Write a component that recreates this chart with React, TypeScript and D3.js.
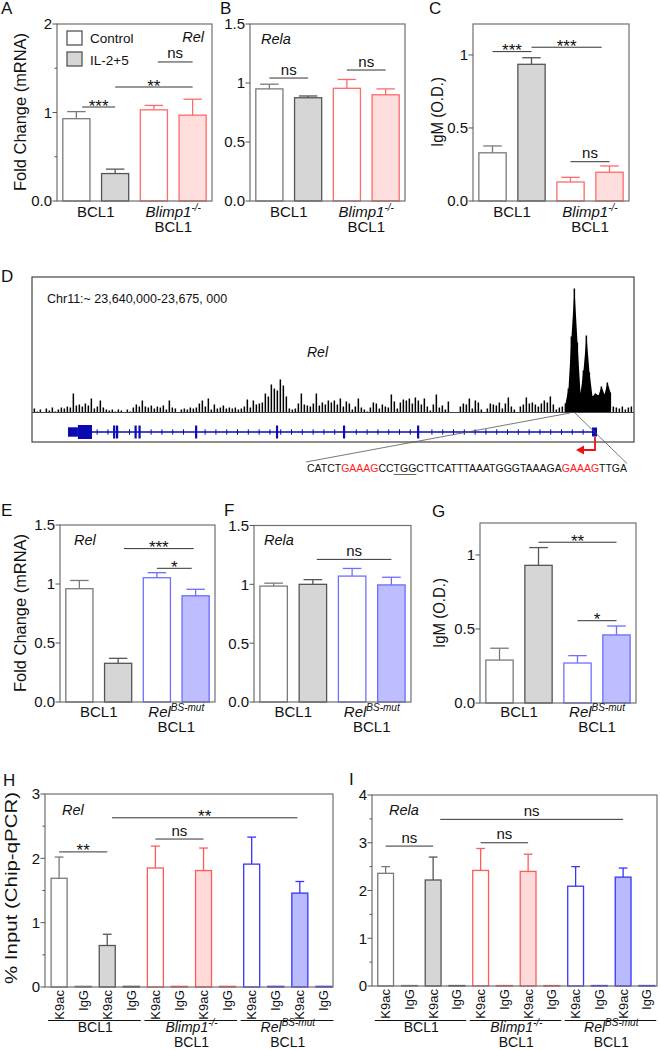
import React, { useLayoutEffect, useRef, useState } from "react";
import * as d3 from "d3";

const FONT = "'Liberation Sans', Arial, Helvetica, sans-serif";

// ---------------- data ----------------
const barCategories = ["BCL1 Control", "BCL1 IL-2+5", "Mutant Control", "Mutant IL-2+5"];
const legendLabels = ["Control", "IL-2+5"];

const relMrnaA = [0.93, 0.31, 1.03, 0.97];
const relMrnaASem = [0.08, 0.05, 0.05, 0.18];
const relaMrnaB = [0.95, 0.875, 0.955, 0.9];
const relaMrnaBSem = [0.04, 0.015, 0.075, 0.05];
const igmC = [0.33, 0.936, 0.13, 0.197];
const igmCSem = [0.047, 0.045, 0.032, 0.043];
const relMrnaE = [0.96, 0.328, 1.053, 0.9];
const relMrnaESem = [0.07, 0.042, 0.043, 0.055];
const relaMrnaF = [0.985, 1.0, 1.07, 0.995];
const relaMrnaFSem = [0.025, 0.04, 0.065, 0.065];
const igmG = [0.29, 0.93, 0.27, 0.46];
const igmGSem = [0.08, 0.12, 0.05, 0.06];

const chipCategories = ["K9ac", "IgG", "K9ac", "IgG", "K9ac", "IgG", "K9ac", "IgG", "K9ac", "IgG", "K9ac", "IgG"];
const chipRelH = [1.69, 0.01, 0.645, 0.01, 1.85, 0.01, 1.81, 0.01, 1.91, 0.01, 1.46, 0.01];
const chipRelHSem = [0.33, 0, 0.175, 0, 0.34, 0, 0.35, 0, 0.42, 0, 0.18, 0];
const chipRelaI = [2.36, 0.01, 2.22, 0.01, 2.42, 0.01, 2.4, 0.01, 2.09, 0.01, 2.28, 0.01];
const chipRelaISem = [0.14, 0, 0.48, 0, 0.46, 0, 0.36, 0, 0.41, 0, 0.19, 0];

// ChIP-seq track (3-px bins, arbitrary signal units)
const trackSignal = [
  4, 1, 3, 0, 4, 2, 5, 1, 3, 5,
  4, 6, 5, 19, 7, 8, 6, 9, 7, 14,
  4, 6, 12, 5, 3, 2, 3, 1, 3, 2,
  0, 3, 1, 5, 8, 6, 12, 6, 5, 7,
  4, 6, 5, 7, 3, 12, 5, 4, 0, 3,
  4, 3, 5, 4, 5, 9, 12, 6, 14, 3,
  8, 4, 5, 7, 4, 5, 4, 5, 3, 4,
  6, 13, 5, 12, 8, 9, 10, 19, 16, 28,
  24, 22, 33, 27, 16, 4, 3, 4, 9, 19,
  8, 7, 6, 9, 19, 7, 10, 8, 12, 10,
  12, 8, 14, 6, 11, 9, 3, 6, 14, 5,
  3, 1, 5, 10, 9, 4, 8, 6, 5, 18,
  11, 4, 10, 13, 12, 14, 9, 15, 12, 8,
  14, 6, 2, 8, 18, 5, 7, 3, 11, 0,
  0, 0, 6, 9, 8, 14, 4, 12, 10, 3,
  0, 4, 9, 8, 7, 10, 4, 9, 15, 6,
  3, 0, 6, 8, 15, 9, 10, 8, 6, 9,
  12, 10, 16, 8, 3, 5, 6, 9, 24, 76,
  124, 70, 19, 42, 77, 40, 16, 19, 17, 26,
  18, 30, 20, 6, 5, 4, 6, 3, 5, 6,
];
const peakBins = [177, 192]; // dense enriched region drawn as a filled profile
// gene model, kb from 23,640,000
const regionKb = [0, 35];
const geneSpanKb = [2.04, 32.9];
const utrThinKb = [2.04, 2.62];
const utrThickKb = [2.62, 3.44];
const exonKb = [4.73, 4.9, 5.98, 6.21, 9.51, 14.23, 18.14, 22.46];
const lastExonKb = [32.61, 32.9];
const sequenceParts = [
  { s: "CATCT", red: false },
  { s: "GAAAG", red: true },
  { s: "CCTGGCTTCATTTAAATGGGTAAAGA", red: false },
  { s: "GAAAG", red: true },
  { s: "TTGA", red: false },
];

// ---------------- styles ----------------
type BarStyle = { fill: string; stroke: string };
const WG: BarStyle = { fill: "#ffffff", stroke: "#7a7a7a" };
const GR: BarStyle = { fill: "#d6d6d6", stroke: "#555555" };
const WR: BarStyle = { fill: "#ffffff", stroke: "#ff6a6a" };
const PK: BarStyle = { fill: "#ffdede", stroke: "#ff6a6a" };
const WB: BarStyle = { fill: "#ffffff", stroke: "#7070ff" };
const LV: BarStyle = { fill: "#bdbdff", stroke: "#6c6cff" };
const WR2: BarStyle = { fill: "#ffffff", stroke: "#ff5a5a" };
const PK2: BarStyle = { fill: "#ffdada", stroke: "#ff5a5a" };
const WB2: BarStyle = { fill: "#ffffff", stroke: "#3535ff" };
const LV2: BarStyle = { fill: "#babaff", stroke: "#3535ff" };

type Sig = { a: number; b: number; v: number; label: string };
type Group = { a: number; b: number; lines: React.ReactNode[] };
type PanelProps = {
  frame: [number, number];
  band: [number, number];
  pi: number;
  po: number;
  yBottom: number;
  yTop: number;
  max: number;
  majors: [number, string][];
  minors: number[];
  values: number[];
  sems: number[];
  styles: BarStyle[];
  sigs: Sig[];
  capFrac: number;
  groups: Group[];
  groupY: number;
  lineGap?: number;
  groupFont?: number;
  underline?: number;
  catLabels?: string[];
};

const blimpLabel = (
  <>
    <tspan fontStyle="italic">Blimp1</tspan>
    <tspan fontStyle="italic" fontSize={10} dy={-6}>-/-</tspan>
  </>
);
const relBsLabel = (
  <>
    <tspan fontStyle="italic">Rel</tspan>
    <tspan fontStyle="italic" fontSize={10} dy={-6}>BS-mut</tspan>
  </>
);

function BarPanel(p: PanelProps) {
  const n = p.values.length;
  const x = d3.scaleBand<number>().domain(d3.range(n)).range(p.band).paddingInner(p.pi).paddingOuter(p.po);
  const bw = x.bandwidth();
  const cx = (i: number) => (x(0) as number) + i * x.step() + bw / 2;
  const y = d3.scaleLinear().domain([0, p.max]).range([p.yBottom, p.yTop]);
  const [fx0, fx1] = p.frame;
  const cap = bw * p.capFrac;
  const gap = p.lineGap ?? 15.5;
  const gf = p.groupFont ?? 15;
  return (
    <g>
      {p.values.map((v, i) => {
        const st = p.styles[i];
        const top = y(v);
        return (
          <rect key={"b" + i} x={x(i)} y={top} width={bw} height={Math.max(0.4, p.yBottom - top)}
            fill={st.fill} stroke={st.stroke} strokeWidth={1.3} />
        );
      })}
      {p.values.map((v, i) => {
        if (!p.sems[i]) return null;
        const st = p.styles[i];
        const yt = y(v + p.sems[i]);
        return (
          <g key={"e" + i} stroke={st.stroke} strokeWidth={1.3}>
            <line x1={cx(i)} x2={cx(i)} y1={y(v)} y2={yt} />
            <line x1={cx(i) - cap / 2} x2={cx(i) + cap / 2} y1={yt} y2={yt} />
          </g>
        );
      })}
      <rect x={fx0} y={p.yTop} width={fx1 - fx0} height={p.yBottom - p.yTop} fill="none" stroke="#707070" strokeWidth={1.2} />
      {p.majors.map(([v, lab]) => (
        <g key={"t" + v}>
          <line x1={fx0 - 4.5} x2={fx0} y1={y(v)} y2={y(v)} stroke="#555" strokeWidth={1} />
          <text x={fx0 - 5} y={y(v)} dy="0.36em" textAnchor="end" fontSize={15} fill="#111">{lab}</text>
        </g>
      ))}
      {p.minors.map((v) => (
        <line key={"m" + v} x1={fx0 - 2.5} x2={fx0} y1={y(v)} y2={y(v)} stroke="#555" strokeWidth={1} />
      ))}
      {p.sigs.map((s, i) => {
        const ly = y(s.v);
        const isNs = s.label === "ns";
        return (
          <g key={"s" + i}>
            <line x1={cx(s.a)} x2={cx(s.b)} y1={ly} y2={ly} stroke="#333" strokeWidth={1} />
            <text x={(cx(s.a) + cx(s.b)) / 2} y={isNs ? ly - 3.5 : ly + 4.5} textAnchor="middle"
              fontSize={isNs ? 15 : 17} fill="#111">{s.label}</text>
          </g>
        );
      })}
      {p.catLabels &&
        p.catLabels.map((c, i) => (
          <text key={"c" + i} transform={`translate(${cx(i) + 4.5},${p.yBottom + 3}) rotate(-90)`}
            textAnchor="end" fontSize={13} fill="#111">{c}</text>
        ))}
      {p.groups.map((g, gi) => {
        const mid = (cx(g.a) + cx(g.b)) / 2;
        return (
          <g key={"g" + gi}>
            {p.underline !== undefined && (
              <line x1={(x(g.a) as number) - 3} x2={(x(g.b) as number) + bw + 1.5} y1={p.underline} y2={p.underline}
                stroke="#111" strokeWidth={1} />
            )}
            {g.lines.map((l, li) => (
              <text key={li} x={mid} y={p.groupY + li * gap} textAnchor="middle" fontSize={gf} fill="#111">{l}</text>
            ))}
          </g>
        );
      })}
    </g>
  );
}

function TrackPanel() {
  const seqRef = useRef<SVGTextElement>(null);
  const [ul, setUl] = useState<[number, number] | null>(null);
  useLayoutEffect(() => {
    const t = seqRef.current;
    if (t) {
      try {
        const a = t.getStartPositionOfChar(12).x;
        const b = t.getEndPositionOfChar(14).x;
        setUl([a, b]);
      } catch (e) {
        /* ignore */
      }
    }
  }, []);
  const fx0 = 32, fx1 = 634, fy0 = 277, fy1 = 442, base = 412.5;
  const bx = d3.scaleLinear().domain([0, trackSignal.length]).range([33, 633]);
  const by = d3.scaleLinear().domain([0, 125]).range([base, base - 125]);
  const gx = d3.scaleLinear().domain(regionKb).range([33, 633]);
  const gy = 432;
  const ticks = d3.range(utrThickKb[1] + 0.3, lastExonKb[0] - 0.1, 0.63).filter(
    (k) => exonKb.every((e) => Math.abs(e - k) > 0.22)
  );
  const peakIdx = d3.range(peakBins[0], peakBins[1] + 1);
  const peakArea = d3
    .area<number>()
    .x((i) => bx(i) + 1.5)
    .y0(base)
    .y1((i) => by(trackSignal[i]))
    .curve(d3.curveLinear);
  const blue = "#0a0ab4";
  return (
    <g>
      <rect x={fx0} y={fy0} width={fx1 - fx0} height={fy1 - fy0} fill="none" stroke="#444" strokeWidth={1.2} />
      <text x={47} y={303} fontSize={12.5} fill="#111">Chr11:~ 23,640,000-23,675, 000</text>
      <text x={307} y={357} fontSize={14} fontStyle="italic" fill="#111">Rel</text>
      {trackSignal.map((h, i) => (
        <rect key={i} x={bx(i) + 0.6} y={by(h)} width={1.5} height={base - by(h)} fill="#000" />
      ))}
      <path d={peakArea(peakIdx) || ""} fill="#000" />
      <line x1={fx0} x2={fx1} y1={base} y2={base} stroke="#444" strokeWidth={1} />
      {/* gene model */}
      <line x1={gx(geneSpanKb[0])} x2={gx(geneSpanKb[1])} y1={gy} y2={gy} stroke={blue} strokeWidth={1.6} />
      <rect x={gx(utrThinKb[0])} y={gy - 4.7} width={gx(utrThinKb[1]) - gx(utrThinKb[0])} height={9.4} fill={blue} />
      <rect x={gx(utrThickKb[0])} y={gy - 7} width={gx(utrThickKb[1]) - gx(utrThickKb[0])} height={14} fill={blue} />
      {ticks.map((k, i) => (
        <line key={"it" + i} x1={gx(k)} x2={gx(k)} y1={gy - 2.7} y2={gy + 2.7} stroke={blue} strokeWidth={1} />
      ))}
      {exonKb.map((k, i) => (
        <rect key={"ex" + i} x={gx(k) - 1} y={gy - 6.5} width={2.2} height={13} fill={blue} />
      ))}
      <rect x={gx(lastExonKb[0])} y={gy - 4.5} width={gx(lastExonKb[1]) - gx(lastExonKb[0])} height={9} fill={blue} />
      {/* TSS arrow */}
      <path d={`M${gx(lastExonKb[1]) - 2},${gy + 5} V450 H583`} fill="none" stroke="#ee1111" strokeWidth={1.8} />
      <path d="M576,450 L584,445.5 L584,454.5 Z" fill="#ee1111" />
      {/* zoom lines */}
      <line x1={570} y1={413} x2={306} y2={462} stroke="#555" strokeWidth={0.8} />
      <line x1={575} y1={413} x2={627} y2={463.5} stroke="#555" strokeWidth={0.8} />
      <text ref={seqRef} x={307} y={471.5} fontSize={10.5} fill="#111" textLength={320} lengthAdjust="spacing">
        {sequenceParts.map((p, i) => (
          <tspan key={i} fill={p.red ? "#ff1a1a" : "#111"}>{p.s}</tspan>
        ))}
      </text>
      {ul && <line x1={ul[0]} x2={ul[1]} y1={474.5} y2={474.5} stroke="#666" strokeWidth={1} />}
    </g>
  );
}

export default function App() {
  const fourMajorsA: [number, string][] = [[0, "0.0"], [1, "1"], [2, "2"]];
  const majors15: [number, string][] = [[0, "0.0"], [0.5, "0.5"], [1, "1"], [1.5, "1.5"]];
  const majorsIgm: [number, string][] = [[0, "0.0"], [0.5, "0.5"], [1, "1"]];
  const majorsH: [number, string][] = [[0, "0"], [1, "1"], [2, "2"], [3, "3"]];
  const majorsI: [number, string][] = [[0, "0"], [1, "1"], [2, "2"], [3, "3"], [4, "4"]];
  const topGroupsKO: Group[] = [
    { a: 0, b: 1, lines: ["BCL1"] },
    { a: 2, b: 3, lines: [blimpLabel, "BCL1"] },
  ];
  const topGroupsBS: Group[] = [
    { a: 0, b: 1, lines: ["BCL1"] },
    { a: 2, b: 3, lines: [relBsLabel, "BCL1"] },
  ];
  const chipGroups: Group[] = [
    { a: 0, b: 3, lines: ["BCL1"] },
    { a: 4, b: 7, lines: [blimpLabel, "BCL1"] },
    { a: 8, b: 11, lines: [relBsLabel, "BCL1"] },
  ];
  const chipStyles = [WG, WG, GR, GR, WR2, WR2, PK2, PK2, WB2, WB2, LV2, LV2];
  const common4 = { pi: 0.3, po: 0.15, capFrac: 0.68 };
  const letter = (t: string, x: number, y: number) => (
    <text x={x} y={y} fontSize={17} fill="#111">{t}</text>
  );
  const yTitle = (t: string, x: number, y: number, len?: number) => (
    <text transform={`translate(${x},${y}) rotate(-90)`} textAnchor="middle" dy="0.36em" fontSize={16} fill="#111"
      {...(len ? { textLength: len, lengthAdjust: "spacingAndGlyphs" } : {})}>{t}</text>
  );
  return (
    <svg width={660} height={1050} style={{ position: "absolute", left: 0, top: 0, display: "block", background: "#fff" }}
      fontFamily={FONT}>
      <rect width={660} height={1050} fill="#fff" />
      {letter("A", 1, 14)}
      {letter("B", 220, 14)}
      {letter("C", 429, 14)}
      {letter("D", 1, 282)}
      {letter("E", 1, 516)}
      {letter("F", 224, 516)}
      {letter("G", 432, 517)}
      {letter("H", 3, 786)}
      {letter("I", 349, 785)}

      {yTitle("Fold Change (mRNA)", 20, 112, 158)}
      {yTitle("IgM (O.D.)", 437, 112, 70)}
      {yTitle("Fold Change (mRNA)", 20, 613, 158)}
      {yTitle("IgM (O.D.)", 439, 613, 70)}
      {yTitle("% Input (Chip-qPCR)", 11, 888, 192)}

      <BarPanel frame={[57, 212]} band={[57, 212]} {...common4} yBottom={201} yTop={24} max={2}
        majors={fourMajorsA} minors={[0.5, 1.5]} values={relMrnaA} sems={relMrnaASem} styles={[WG, GR, WR, PK]}
        sigs={[{ a: 0.15, b: 1, v: 1.062, label: "***" }, { a: 1, b: 3, v: 1.288, label: "**" }, { a: 2.1, b: 3, v: 1.571, label: "ns" }]}
        groups={topGroupsKO} groupY={216.5} />
      {/* legend */}
      <rect x={67} y={31} width={15} height={14} fill={WG.fill} stroke="#555" strokeWidth={1.3} />
      <rect x={67} y={52} width={15} height={14} fill={GR.fill} stroke="#555" strokeWidth={1.3} />
      <text x={90} y={43} fontSize={13.5} fill="#111">{legendLabels[0]}</text>
      <text x={90} y={65} fontSize={13.5} fill="#111">{legendLabels[1]}</text>
      <text x={204} y={42} fontSize={14.5} fontStyle="italic" textAnchor="end" fill="#111">Rel</text>

      <BarPanel frame={[250, 405]} band={[250, 405]} {...common4} yBottom={201} yTop={24} max={1.5}
        majors={majors15} minors={[]} values={relaMrnaB} sems={relaMrnaBSem} styles={[WG, GR, WR, PK]}
        sigs={[{ a: 0, b: 1, v: 1.042, label: "ns" }, { a: 2, b: 3, v: 1.11, label: "ns" }]}
        groups={topGroupsKO} groupY={216.5} />
      <text x={261} y={44} fontSize={14.5} fontStyle="italic" fill="#111">Rela</text>

      <BarPanel frame={[473, 629]} band={[473, 629]} {...common4} yBottom={201} yTop={24} max={1.212}
        majors={majorsIgm} minors={[]} values={igmC} sems={igmCSem} styles={[WG, GR, WR, PK]}
        sigs={[{ a: 0, b: 1, v: 1.023, label: "***" }, { a: 1, b: 2.8, v: 1.053, label: "***" }, { a: 2, b: 3, v: 0.269, label: "ns" }]}
        groups={topGroupsKO} groupY={216.5} />

      <TrackPanel />

      <BarPanel frame={[60, 215]} band={[60, 215]} {...common4} yBottom={702} yTop={525} max={1.5}
        majors={majors15} minors={[]} values={relMrnaE} sems={relMrnaESem} styles={[WG, GR, WB, LV]}
        sigs={[{ a: 1.15, b: 2.95, v: 1.3, label: "***" }, { a: 2, b: 2.9, v: 1.133, label: "*" }]}
        groups={topGroupsBS} groupY={716.5} />
      <text x={74} y={545} fontSize={14.5} fontStyle="italic" fill="#111">Rel</text>

      <BarPanel frame={[254, 411]} band={[254, 411]} {...common4} yBottom={702} yTop={525.5} max={1.5}
        majors={majors15} minors={[]} values={relaMrnaF} sems={relaMrnaFSem} styles={[WG, GR, WB, LV]}
        sigs={[{ a: 1.1, b: 3, v: 1.212, label: "ns" }]}
        groups={topGroupsBS} groupY={716.5} />
      <text x={264} y={545} fontSize={14.5} fontStyle="italic" fill="#111">Rela</text>

      <BarPanel frame={[480, 636]} band={[480, 636]} {...common4} yBottom={703} yTop={523} max={1.216}
        majors={majorsIgm} minors={[]} values={igmG} sems={igmGSem} styles={[WG, GR, WB, LV]}
        sigs={[{ a: 1, b: 3, v: 1.086, label: "**" }, { a: 2, b: 3, v: 0.556, label: "*" }]}
        groups={topGroupsBS} groupY={716.5} />

      <BarPanel frame={[45, 333]} band={[47, 336]} pi={0.335} po={0.17} capFrac={0.55} yBottom={987} yTop={794} max={3}
        majors={majorsH} minors={[0.5, 1.5, 2.5]} values={chipRelH} sems={chipRelHSem} styles={chipStyles}
        sigs={[{ a: 0, b: 2, v: 2.1, label: "**" }, { a: 4, b: 6, v: 2.3, label: "ns" }, { a: 2.2, b: 9.9, v: 2.63, label: "**" }]}
        groups={chipGroups} groupY={1032} lineGap={15} groupFont={14} underline={1020.5} catLabels={chipCategories} />
      <text x={62} y={815} fontSize={14.5} fontStyle="italic" fill="#111">Rel</text>

      <BarPanel frame={[372, 657]} band={[373.7, 658.8]} pi={0.335} po={0.17} capFrac={0.55} yBottom={986} yTop={795} max={4}
        majors={majorsI} minors={[0.5, 1.5, 2.5, 3.5]} values={chipRelaI} sems={chipRelaISem} styles={chipStyles}
        sigs={[{ a: 0, b: 2, v: 2.93, label: "ns" }, { a: 4, b: 6, v: 3.0, label: "ns" }, { a: 2.3, b: 10, v: 3.49, label: "ns" }]}
        groups={chipGroups} groupY={1032} lineGap={15} groupFont={14} underline={1020.5} catLabels={chipCategories} />
      <text x={389} y={815} fontSize={14.5} fontStyle="italic" fill="#111">Rela</text>
    </svg>
  );
}
